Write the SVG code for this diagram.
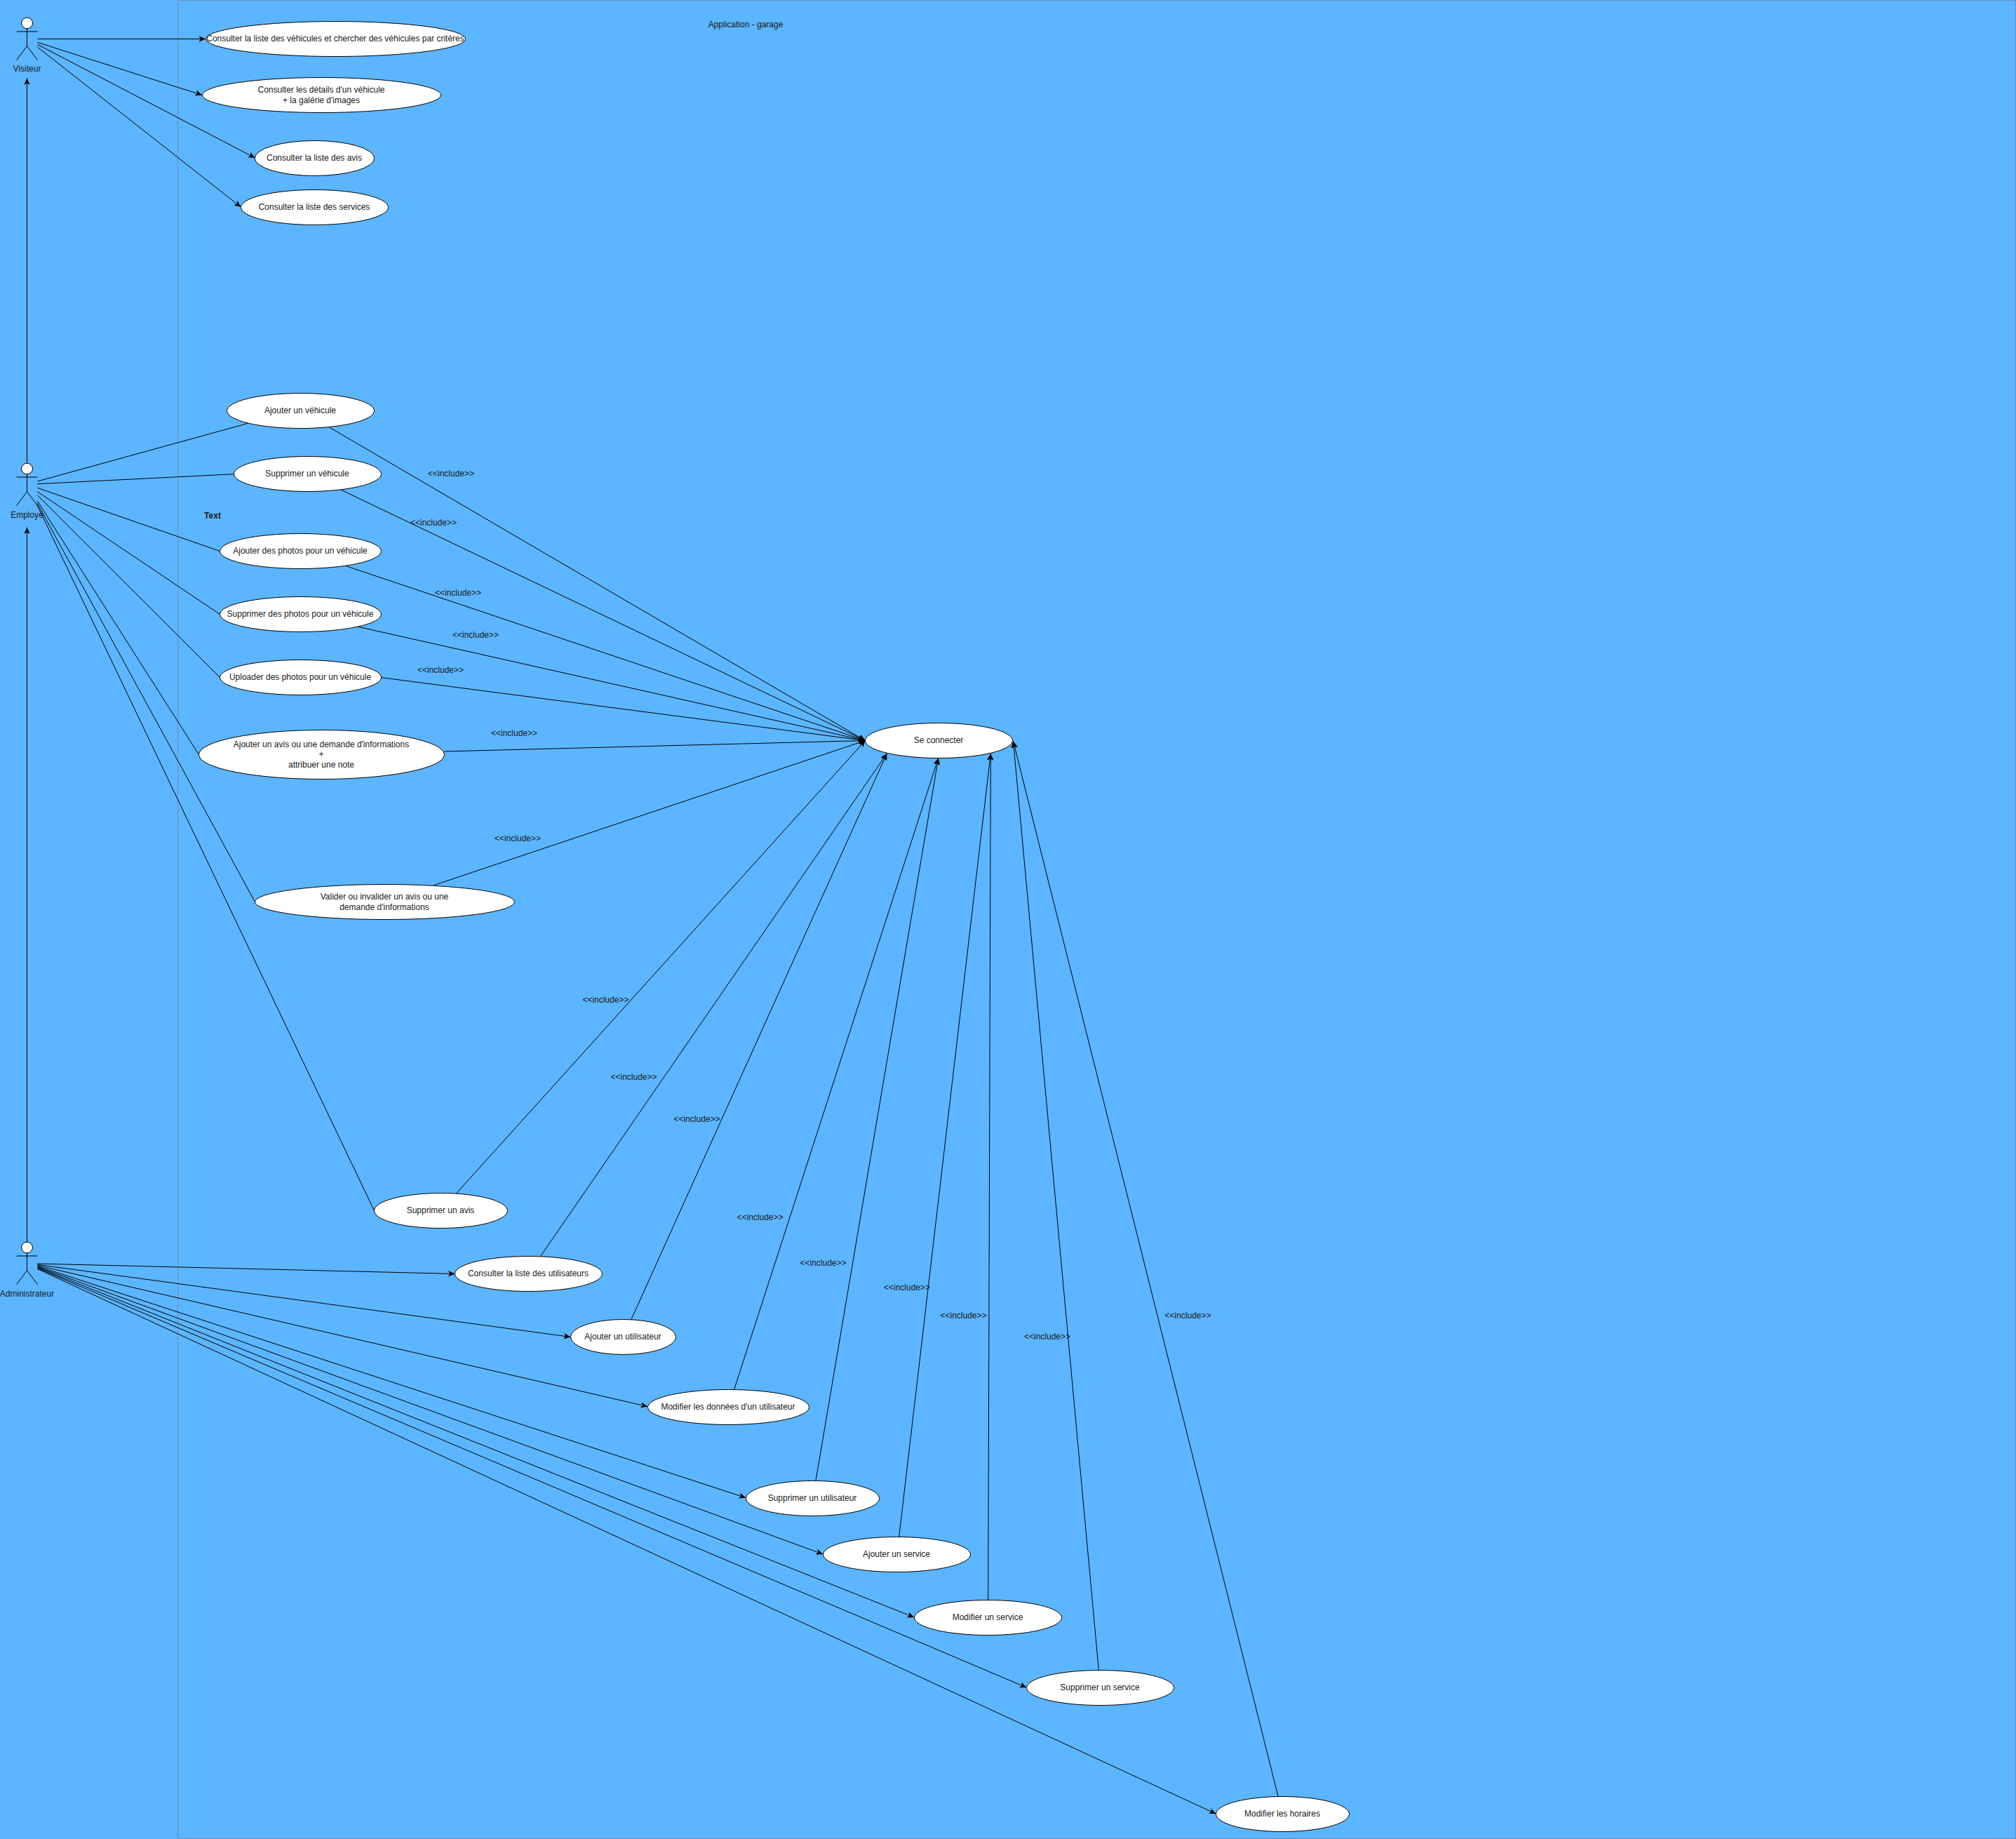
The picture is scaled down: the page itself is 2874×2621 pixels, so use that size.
<svg xmlns="http://www.w3.org/2000/svg" width="2874" height="2621" viewBox="0 0 2874 2621">
<style>
text{font-family:"Liberation Sans",Arial,sans-serif;font-size:12px;fill:#1a1a1a;text-anchor:middle}
.u{fill:#fff;stroke:#000;stroke-width:1}
.a{fill:#fff;stroke:#000;stroke-width:1}
.s{fill:none;stroke:#000;stroke-width:1}
#connectors line{stroke:#000;stroke-width:1;fill:none}
#connectors line.h{marker-end:url(#arrow)}
</style>
<defs>
<marker id="arrow" markerUnits="userSpaceOnUse" markerWidth="12" markerHeight="10" viewBox="-10 -5 12 10" refX="0" refY="0" orient="auto"><path d="M0,0 L-9.5,-4.2 L-7,0 L-9.5,4.2 Z" fill="#000"/></marker>
</defs>
<rect width="2874" height="2621" fill="#5cb5ff"/>
<rect id="system-frame" x="253.5" y="0.5" width="2620" height="2620" fill="none" stroke="#6c8ebf"/>
<text id="system-title" x="1063" y="39">Application - garage</text>
<text id="stray-text" x="303" y="739" style="font-weight:700">Text</text>

<g id="connectors">
<line class="h" x1="38.5" y1="660" x2="38.5" y2="111.5"/>
<line class="h" x1="38.5" y1="1770" x2="38.5" y2="751.5"/>
<line class="h" x1="53.3" y1="55.5" x2="293" y2="55.5"/>
<line class="h" x1="53.3" y1="60.3" x2="288" y2="135.5"/>
<line class="h" x1="53.3" y1="63.3" x2="363.5" y2="225"/>
<line class="h" x1="53.3" y1="67" x2="343.3" y2="295"/>
<line x1="53.3" y1="686" x2="353.5" y2="603.3"/>
<line x1="53.3" y1="689.7" x2="333.5" y2="675.7"/>
<line x1="53.3" y1="695.3" x2="313.5" y2="785.5"/>
<line x1="53.3" y1="700.7" x2="313.5" y2="875.5"/>
<line x1="53.3" y1="705.7" x2="313.5" y2="965.5"/>
<line x1="53.3" y1="714" x2="283.5" y2="1075.5"/>
<line x1="53" y1="717" x2="363.5" y2="1285.5"/>
<line x1="53" y1="720" x2="533.5" y2="1725.5"/>
<line class="h" x1="53.4" y1="1801" x2="648.5" y2="1815.5"/>
<line class="h" x1="53.4" y1="1802.3" x2="813.3" y2="1905.5"/>
<line class="h" x1="53.4" y1="1803.5" x2="923" y2="2004.6"/>
<line class="h" x1="53.4" y1="1804.5" x2="1063" y2="2134.6"/>
<line class="h" x1="53.4" y1="1805.5" x2="1173" y2="2215"/>
<line class="h" x1="53.4" y1="1806.5" x2="1303" y2="2305"/>
<line class="h" x1="53.4" y1="1807.5" x2="1463.3" y2="2405"/>
<line class="h" x1="53.4" y1="1808.5" x2="1733.3" y2="2585"/>
<line class="h" x1="468.3" y1="608.3" x2="1233.5" y2="1055.5"/>
<line class="h" x1="485.8" y1="698" x2="1233.5" y2="1055.5"/>
<line class="h" x1="491.3" y1="806" x2="1233.5" y2="1055.5"/>
<line class="h" x1="510.6" y1="893.3" x2="1233.5" y2="1055.5"/>
<line class="h" x1="544" y1="965.7" x2="1233.5" y2="1055.5"/>
<line class="h" x1="633.5" y1="1071" x2="1233.5" y2="1055.5"/>
<line class="h" x1="618.4" y1="1261.7" x2="1233.5" y2="1055.5"/>
<line class="h" x1="650.7" y1="1700.7" x2="1233.5" y2="1055.5"/>
<line class="h" x1="770.7" y1="1790.3" x2="1264.3" y2="1074"/>
<line class="h" x1="900" y1="1880.3" x2="1264.3" y2="1074"/>
<line class="h" x1="1046.7" y1="1980" x2="1337.7" y2="1080.5"/>
<line class="h" x1="1163" y1="2110" x2="1337.7" y2="1080.5"/>
<line class="h" x1="1281.7" y1="2190" x2="1412.3" y2="1074"/>
<line class="h" x1="1408.7" y1="2280.3" x2="1412.3" y2="1074"/>
<line class="h" x1="1566.3" y1="2380" x2="1444.5" y2="1056.5"/>
<line class="h" x1="1822" y1="2560" x2="1444.5" y2="1056.5"/>
<text x="643" y="679">&lt;&lt;include&gt;&gt;</text>
<text x="618" y="749">&lt;&lt;include&gt;&gt;</text>
<text x="653" y="849">&lt;&lt;include&gt;&gt;</text>
<text x="678" y="909">&lt;&lt;include&gt;&gt;</text>
<text x="628" y="959">&lt;&lt;include&gt;&gt;</text>
<text x="733" y="1049">&lt;&lt;include&gt;&gt;</text>
<text x="738" y="1199">&lt;&lt;include&gt;&gt;</text>
<text x="863.5" y="1429">&lt;&lt;include&gt;&gt;</text>
<text x="903.5" y="1539">&lt;&lt;include&gt;&gt;</text>
<text x="993.5" y="1599">&lt;&lt;include&gt;&gt;</text>
<text x="1083.5" y="1739">&lt;&lt;include&gt;&gt;</text>
<text x="1173.5" y="1804">&lt;&lt;include&gt;&gt;</text>
<text x="1293" y="1839">&lt;&lt;include&gt;&gt;</text>
<text x="1373.5" y="1879">&lt;&lt;include&gt;&gt;</text>
<text x="1493" y="1909">&lt;&lt;include&gt;&gt;</text>
<text x="1693.5" y="1879">&lt;&lt;include&gt;&gt;</text>
</g>

<g id="actor-visiteur">
<ellipse class="a" cx="38.5" cy="33" rx="8" ry="7.75"/>
<path class="s" d="M38.5,40.7V65.7M23.5,45H53.5M38.5,65.7L23.5,85.7M38.5,65.7L53.5,85.7"/>
<text x="38.5" y="102">Visiteur</text>
</g>
<g id="actor-employe">
<ellipse class="a" cx="38.5" cy="668" rx="8" ry="7.75"/>
<path class="s" d="M38.5,675.7V700.7M23.5,680H53.5M38.5,700.7L23.5,720.7M38.5,700.7L53.5,720.7"/>
<text x="38.5" y="738">Employé</text>
</g>
<g id="actor-administrateur">
<ellipse class="a" cx="38.5" cy="1778" rx="8" ry="7.75"/>
<path class="s" d="M38.5,1785.7V1810.7M23.5,1790H53.5M38.5,1810.7L23.5,1830.7M38.5,1810.7L53.5,1830.7"/>
<text x="38.5" y="1848">Administrateur</text>
</g>

<g id="uc-liste-vehicules"><ellipse class="u" cx="478.5" cy="55.5" rx="185" ry="25"/><text x="478" y="59">Consulter la liste des véhicules et chercher des véhicules par critères</text></g>
<g id="uc-details-vehicule"><ellipse class="u" cx="458.5" cy="135.5" rx="170" ry="25"/><text x="458" y="132">Consulter les détails d'un véhicule</text><text x="458" y="147">+ la galérie d'images</text></g>
<g id="uc-liste-avis"><ellipse class="u" cx="448.5" cy="225.5" rx="85" ry="25"/><text x="448" y="229">Consulter la liste des avis</text></g>
<g id="uc-liste-services"><ellipse class="u" cx="448.5" cy="295.5" rx="105" ry="25"/><text x="448" y="299">Consulter la liste des services</text></g>
<g id="uc-ajouter-vehicule"><ellipse class="u" cx="428.5" cy="585.5" rx="105" ry="25"/><text x="428" y="589">Ajouter un véhicule</text></g>
<g id="uc-supprimer-vehicule"><ellipse class="u" cx="438.5" cy="675.5" rx="105" ry="25"/><text x="438" y="679">Supprimer un véhicule</text></g>
<g id="uc-ajouter-photos"><ellipse class="u" cx="428.5" cy="785.5" rx="115" ry="25"/><text x="428" y="789">Ajouter des photos pour un véhicule</text></g>
<g id="uc-supprimer-photos"><ellipse class="u" cx="428.5" cy="875.5" rx="115" ry="25"/><text x="428" y="879">Supprimer des photos pour un véhicule</text></g>
<g id="uc-uploader-photos"><ellipse class="u" cx="428.5" cy="965.5" rx="115" ry="25"/><text x="428" y="969">Uploader des photos pour un véhicule</text></g>
<g id="uc-ajouter-avis"><ellipse class="u" cx="458.5" cy="1075.5" rx="175" ry="35"/><text x="458" y="1065">Ajouter un avis ou une demande d'informations</text><text x="458" y="1079">+</text><text x="458" y="1094">attribuer une note</text></g>
<g id="uc-valider-avis"><ellipse class="u" cx="548.5" cy="1285.5" rx="185" ry="25"/><text x="548" y="1282">Valider ou invalider un avis ou une</text><text x="548" y="1297">demande d'informations</text></g>
<g id="uc-se-connecter"><ellipse class="u" cx="1338.5" cy="1055.5" rx="105" ry="25"/><text x="1338" y="1059">Se connecter</text></g>
<g id="uc-supprimer-avis"><ellipse class="u" cx="628.5" cy="1725.5" rx="95" ry="25"/><text x="628" y="1729">Supprimer un avis</text></g>
<g id="uc-liste-utilisateurs"><ellipse class="u" cx="753.5" cy="1815.5" rx="105" ry="25"/><text x="753" y="1819">Consulter la liste des utilisateurs</text></g>
<g id="uc-ajouter-utilisateur"><ellipse class="u" cx="888.5" cy="1905.5" rx="75" ry="25"/><text x="888" y="1909">Ajouter un utilisateur</text></g>
<g id="uc-modifier-utilisateur"><ellipse class="u" cx="1038.5" cy="2005.5" rx="115" ry="25"/><text x="1038" y="2009">Modifier les données d'un utilisateur</text></g>
<g id="uc-supprimer-utilisateur"><ellipse class="u" cx="1158.5" cy="2135.5" rx="95" ry="25"/><text x="1158" y="2139">Supprimer un utilisateur</text></g>
<g id="uc-ajouter-service"><ellipse class="u" cx="1278.5" cy="2215.5" rx="105" ry="25"/><text x="1278" y="2219">Ajouter un service</text></g>
<g id="uc-modifier-service"><ellipse class="u" cx="1408.5" cy="2305.5" rx="105" ry="25"/><text x="1408" y="2309">Modifier un service</text></g>
<g id="uc-supprimer-service"><ellipse class="u" cx="1568.5" cy="2405.5" rx="105" ry="25"/><text x="1568" y="2409">Supprimer un service</text></g>
<g id="uc-modifier-horaires"><ellipse class="u" cx="1828.5" cy="2585.5" rx="95" ry="25"/><text x="1828" y="2589">Modifier les horaires</text></g>
</svg>
